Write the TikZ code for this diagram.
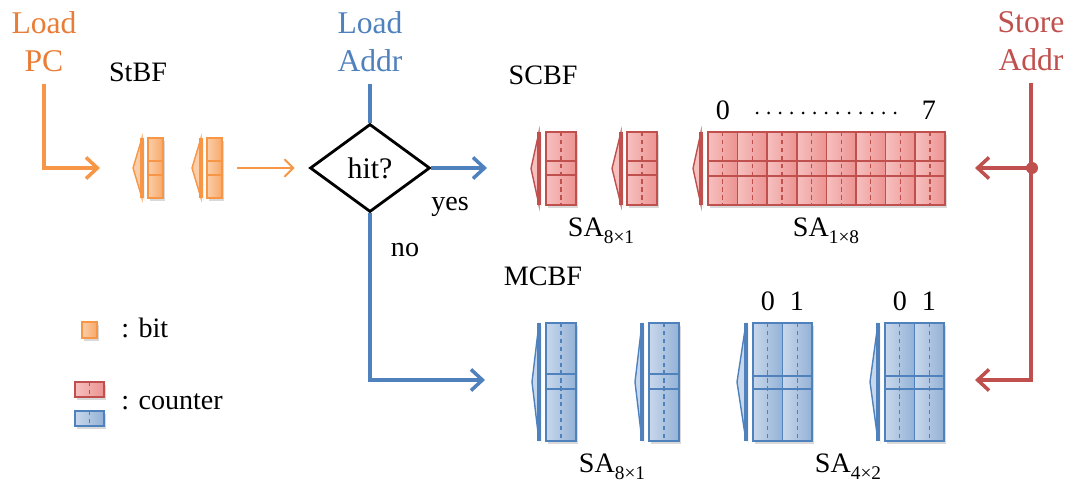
\documentclass[tikz,border=0pt]{standalone}
\usepackage{fontspec}
\setmainfont{Liberation Serif}
\usetikzlibrary{shapes.geometric,arrows.meta,shadows}

\definecolor{oL}{HTML}{F79646}
\definecolor{oA}{HTML}{FBCDA8}
\definecolor{oB}{HTML}{F7A96A}
\definecolor{oT}{HTML}{E97C36}
\definecolor{rL}{HTML}{C0504D}
\definecolor{rA}{HTML}{F6C0BF}
\definecolor{rB}{HTML}{EC9391}
\definecolor{bL}{HTML}{4F81BD}
\definecolor{bA}{HTML}{C8D8EC}
\definecolor{bB}{HTML}{93B1D6}

\newcommand{\sasub}[1]{SA\raisebox{-0.5ex}{\fontsize{11}{12}\selectfont #1}}

\begin{document}
\begin{tikzpicture}[x=0.02cm, y=-0.02cm,
    big/.style={font=\fontsize{18}{21.5}\selectfont, align=center, inner sep=0pt},
    txt/.style={font=\fontsize{16}{19}\selectfont, inner sep=0pt},
    num/.style={font=\fontsize{16}{18}\selectfont, inner sep=0pt},
    shd/.style={drop shadow={opacity=.3, shadow xshift=1.3pt, shadow yshift=-1.6pt}},
    cell/.style={draw=#1L, line width=1pt, left color=#1A, right color=#1B},
    frame/.style={draw=#1L, line width=1.2pt},
    tri/.style={shd, draw=#1L, line width=.8pt, fill=#1A},
    edge/.style={draw=#1L, line width=1.8pt},
    sep/.style={draw=#1L, line width=1pt},
    dsh/.style={draw=#1L, line width=.7pt, dash pattern=on 2.5pt off 2pt},
    oarrow/.style={oL, line width=2pt, -{Straight Barb[length=6.5pt, width=12pt]}},
    othin/.style={oL, line width=1.1pt, -{Straight Barb[length=5pt, width=10pt]}},
    barrow/.style={bL, line width=2pt, -{Straight Barb[length=6.5pt, width=12pt]}},
    rarrow/.style={rL, line width=2pt, -{Straight Barb[length=6.5pt, width=12pt]}}]
\useasboundingbox (0,0) rectangle (1075,482);

% inputs
\node[big, oT, anchor=north] (loadpc) at (44,11) {Load\\PC};
\node[big, bL, anchor=north] (loadaddr) at (370,11) {Load\\Addr};
\node[big, rL, anchor=north] (staddr) at (1031,11) {Store\\Addr};

% filter names
\node[txt, anchor=base] (stbf) at (138,82) {StBF};
\node[txt, anchor=base] (scbf) at (543,85) {SCBF};
\node[txt, anchor=base] (mcbf) at (543,286) {MCBF};

% StBF bit columns
\foreach \tx/\lx/\xa in {133/142/148, 192/201/207} {
  \filldraw[tri=o] (\lx,138) -- (\tx,168) -- (\lx,198) -- cycle;
  \draw[edge=o] (\lx,138) -- (\lx,198);
  \draw[shd, cell=o] (\xa,138) rectangle (\xa+15,198);
  \draw[sep=o] (\xa,161) -- (\xa+15,161) (\xa,175) -- (\xa+15,175);
}

% counter arrays
\foreach \c/\tx/\lx/\xa/\n/\w/\yt/\yb/\ha/\hb in {
    r/531/539/546/1/30/132/205/161/175,
    r/612/621/627/1/30/132/205/161/175,
    r/693/701/708/8/29.6/132/205/161/176,
    b/532/539/546/1/30/323/441/374/389,
    b/635/642/649/1/30/323/441/374/389,
    b/737/746/753/2/29.5/323/441/376/389,
    b/870/878/885/2/29.5/323/441/376/389} {
  \pgfmathsetmacro\xb{\xa+\n*\w}
  \pgfmathsetmacro\ym{(\yt+\yb)/2}
  \filldraw[tri=\c] (\lx,\yt) -- (\tx,\ym) -- (\lx,\yb) -- cycle;
  \draw[edge=\c] (\lx,\yt) -- (\lx,\yb);
  \fill[shd, white] (\xa,\yt) rectangle (\xb,\yb);
  \foreach \k in {1,...,\n} {
    \draw[cell=\c] (\xa+\k*\w-\w,\yt) rectangle (\xa+\k*\w,\yb);
    \draw[dsh=\c] (\xa+\k*\w-0.5*\w,\yt) -- (\xa+\k*\w-0.5*\w,\yb);
  }
  \draw[sep=\c] (\xa,\ha) -- (\xb,\ha) (\xa,\hb) -- (\xb,\hb);
  \draw[frame=\c] (\xa,\yt) rectangle (\xb,\yb);
}

% indices
\node[num, anchor=base] (i0) at (723,120) {0};
\node[num, anchor=base] (i7) at (929,120) {7};
\foreach \i in {0,...,12}
  \fill (757+\i*11.5,113) circle (1.5);
\node[num, anchor=base] (j0) at (768,311) {0};
\node[num, anchor=base] (j1) at (797,311) {1};
\node[num, anchor=base] (k0) at (900,311) {0};
\node[num, anchor=base] (k1) at (929,311) {1};

% array labels
\node[txt, anchor=base] (sa1) at (601,237) {\sasub{8×1}};
\node[txt, anchor=base] (sa2) at (826,237) {\sasub{1×8}};
\node[txt, anchor=base] (sa3) at (612,473) {\sasub{8×1}};
\node[txt, anchor=base] (sa4) at (848,473) {\sasub{4×2}};

% decision
\node[diamond, draw, line width=1.6pt, minimum width=2.4cm, minimum height=1.76cm,
  inner sep=0pt, font=\fontsize{17}{20}\selectfont] (hit) at (370,168) {hit?};
\node[txt, anchor=base] (yes) at (450,211) {yes};
\node[txt, anchor=base] (no) at (405,257) {no};

\coordinate (stin) at (100,168);
\coordinate (stout) at (237,168);
\coordinate (scin) at (487,168);
\coordinate (mcin) at (485,380);
\coordinate (rj) at (1032,168);
\coordinate (scst) at (975,168);
\coordinate (mcst) at (975,380);

% connectors
\draw[oarrow] (loadpc.south) ++(0,12) |- (stin);
\draw[othin, shorten >=8pt] (stout) -- (hit.west);
\draw[bL, line width=2pt] (loadaddr.south) ++(0,12) -- (hit.north);
\draw[barrow] (hit.east) -- (scin);
\draw[barrow] (hit.south) |- (mcin);
\draw[rarrow] (staddr.south) ++(0,12) |- (mcst);
\draw[rarrow] (rj) -- (scst);
\fill[rL] (rj) circle (6);

% legend
\draw[shd, cell=o] (82,322) rectangle (97,338);
\node[txt, anchor=base west] (lbit) at (121,338) {: bit};
\draw[shd, cell=r] (75,382) rectangle (104,397);
\draw[dsh=r] (89.5,382) -- (89.5,397);
\draw[shd, cell=b] (75,411) rectangle (104,426);
\draw[dsh=b] (89.5,411) -- (89.5,426);
\node[txt, anchor=base west] (lcnt) at (121,410) {: counter};
\end{tikzpicture}
\end{document}
